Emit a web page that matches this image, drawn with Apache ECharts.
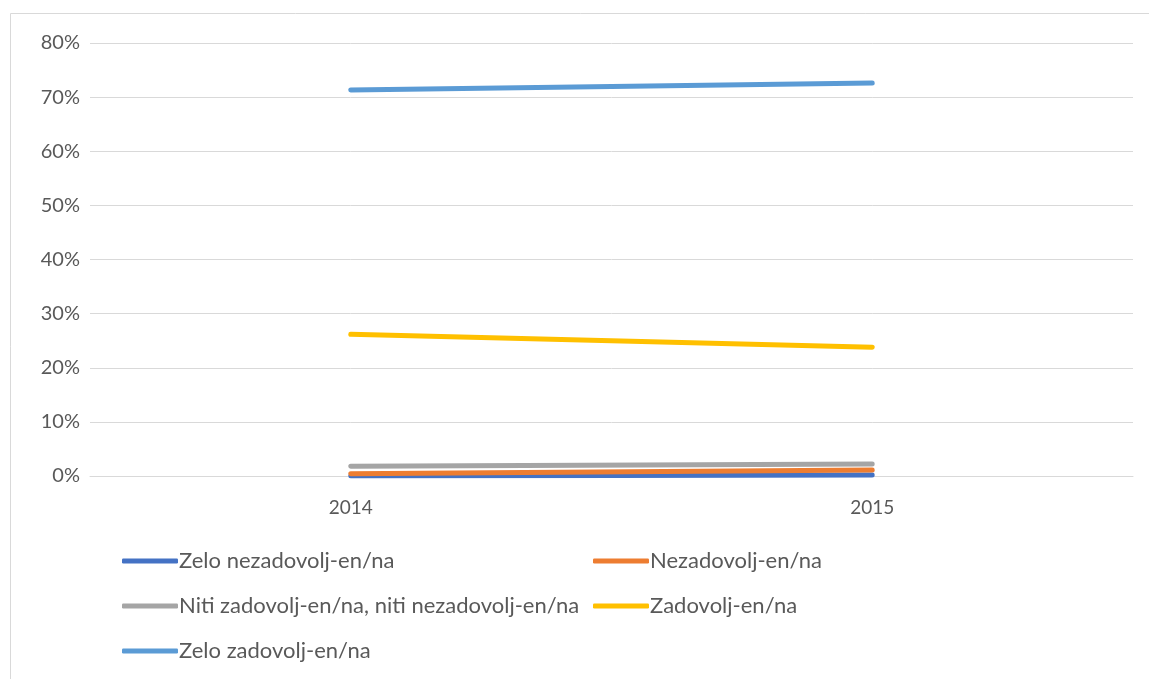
<!DOCTYPE html>
<html>
<head>
<meta charset="utf-8">
<script src="https://cdn.jsdelivr.net/npm/echarts@6/dist/echarts.min.js"></script>
<style>
  html, body { margin: 0; padding: 0; background: #fff; }
  #chart { width: 1149px; height: 679px; }
</style>
</head>
<body>
<div id="chart"></div>
<script>
const years = ['2014', '2015']
const zeloNezadovolj = [0.0, 0.2]
const nezadovolj = [0.4, 1.1]
const nitiNiti = [1.8, 2.2]
const zadovolj = [26.2, 23.8]
const zeloZadovolj = [71.3, 72.6]

const names = [
  'Zelo nezadovolj-en/na',
  'Nezadovolj-en/na',
  'Niti zadovolj-en/na, niti nezadovolj-en/na',
  'Zadovolj-en/na',
  'Zelo zadovolj-en/na'
]
const colors = ['#4472C4', '#ED7D31', '#A5A5A5', '#FFC000', '#5B9BD5']
const values = [zeloNezadovolj, nezadovolj, nitiNiti, zadovolj, zeloZadovolj]

// legend positions: two columns, three rows
const legendPos = [
  { left: 122, top: 550 },
  { left: 593, top: 550 },
  { left: 122, top: 595 },
  { left: 593, top: 595 },
  { left: 122, top: 640 }
]

const font = 'Lato, "Open Sans", sans-serif'

const chart = echarts.init(document.getElementById('chart'))

chart.setOption({
  animation: false,
  color: colors,
  textStyle: { fontFamily: font },
  graphic: [{
    type: 'rect',
    shape: { x: 10.5, y: 13.5, width: 1160, height: 700 },
    style: { fill: 'none', stroke: '#d9d9d9', lineWidth: 1 },
    silent: true
  }],
  grid: { left: 90, right: 16, top: 43, bottom: 203 },
  legend: names.map((n, i) => ({
    data: [n],
    left: legendPos[i].left,
    top: legendPos[i].top,
    icon: 'roundRect',
    itemWidth: 56,
    itemHeight: 5,
    padding: 0,
    textStyle: { fontFamily: font, fontSize: 22, color: '#595959', padding: [0, 0, 0, -4] }
  })),
  xAxis: {
    type: 'category',
    data: years,
    axisLine: { lineStyle: { color: '#d9d9d9', width: 1 } },
    axisTick: { show: false },
    axisLabel: { color: '#595959', fontSize: 19, margin: 22, fontFamily: font }
  },
  yAxis: {
    type: 'value',
    min: 0,
    max: 80,
    interval: 10,
    axisLine: { show: false },
    axisTick: { show: false },
    axisLabel: { color: '#595959', fontSize: 20, margin: 10, formatter: '{value}%', fontFamily: font },
    splitLine: { lineStyle: { color: '#d9d9d9', width: 1 } }
  },
  series: names.map((n, i) => ({
    name: n,
    type: 'line',
    data: values[i],
    showSymbol: false,
    symbol: 'none',
    lineStyle: { width: 5, color: colors[i], cap: 'round' },
    itemStyle: { color: colors[i] }
  }))
})
</script>
</body>
</html>
